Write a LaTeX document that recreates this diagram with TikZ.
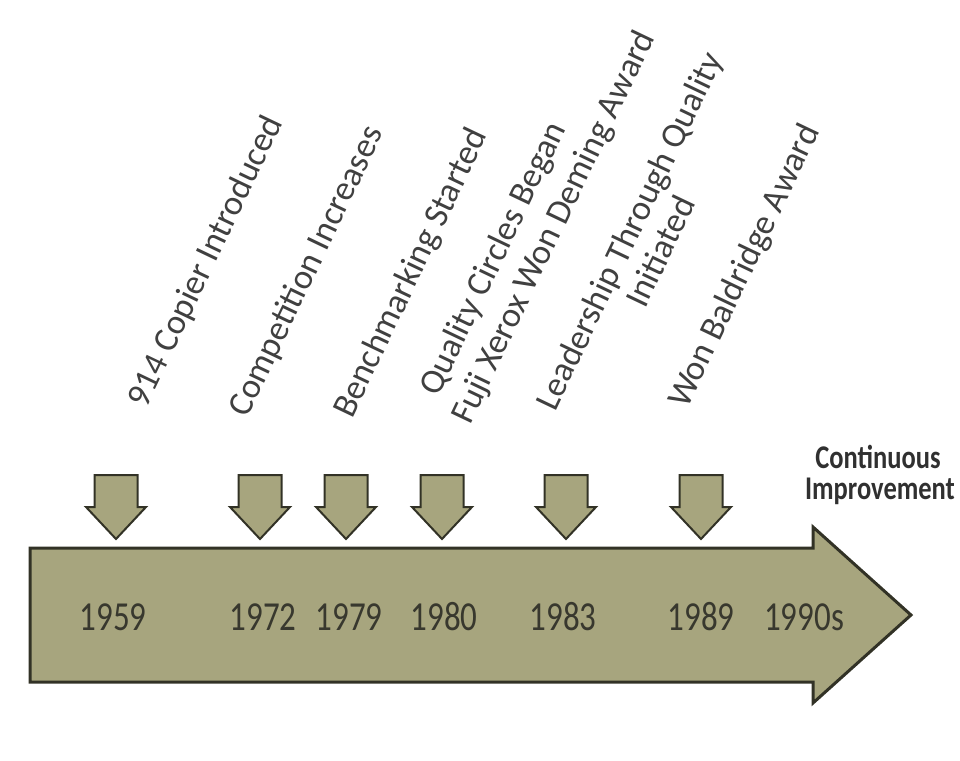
\documentclass[tikz,border=0pt]{standalone}
\usepackage{fontspec}
\setmainfont{Carlito}
\definecolor{arrowfill}{HTML}{A7A57E}
\definecolor{arrowline}{HTML}{323226}
\definecolor{yeartext}{HTML}{38382E}
\definecolor{labeltext}{HTML}{404040}
\definecolor{headtext}{HTML}{303030}
\tikzset{
  olive/.style={fill=arrowfill, draw=arrowline, line join=miter},
  downarrow/.pic={
    \path[olive, line width=2pt]
      (-21.5,-64) -- (21.5,-64) -- (21.5,-32) -- (30,-32) -- (0,0)
      -- (-30,-32) -- (-21.5,-32) -- cycle;
  },
  yearlabel/.style={yscale=1.25, anchor=base, inner sep=0pt, text=yeartext,
    font=\fontsize{33}{40}\selectfont},
  eventlabel/.style={rotate=64.5, anchor=base west, inner sep=0pt,
    text=labeltext, font=\fontsize{35}{40}\selectfont},
  headlabel/.style={yscale=1.25, anchor=base, inner sep=0pt, text=headtext,
    font=\fontsize{26.5}{30}\selectfont\bfseries},
}
\begin{document}
\begin{tikzpicture}[x=1pt, y=-1pt]
\useasboundingbox (0,0) rectangle (960,760);

% main timeline arrow
\path[olive, line width=3pt]
  (30,548) -- (813,548) -- (813,527) -- (911,615) -- (813,703)
  -- (813,682) -- (30,682) -- cycle;

% event markers
\pic (m1959) at (116,539) {downarrow};
\pic (m1972) at (260,539) {downarrow};
\pic (m1979) at (346,539) {downarrow};
\pic (m1980) at (442,539) {downarrow};
\pic (m1983) at (566,539) {downarrow};
\pic (m1989) at (701,539) {downarrow};

% years along the arrow
\node[yearlabel] (y1959) at (113,630) {1959};
\node[yearlabel] (y1972) at (263,630) {1972};
\node[yearlabel] (y1979) at (349,630) {1979};
\node[yearlabel] (y1980) at (444,630) {1980};
\node[yearlabel] (y1983) at (563,630) {1983};
\node[yearlabel] (y1989) at (701,630) {1989};
\node[yearlabel] (y1990) at (804,630) {1990s};

% slanted event descriptions
\node[eventlabel] (e1959) at (146,410) {914 Copier Introduced};
\node[eventlabel] (e1972) at (247,419) {Competition Increases};
\node[eventlabel] (e1979) at (352,420) {Benchmarking Started};
\node[eventlabel] (e1980a) at (438,398) {Quality Circles Began};
\node[eventlabel] (e1980b) at (470,426) {Fuji Xerox Won Deming Award};
\node[eventlabel] (e1983a) at (555,413) {Leadership Through Quality};
\node[eventlabel] (e1983b) at (645,310) {Initiated};
\node[eventlabel] (e1989) at (687,410) {Won Baldridge Award};

% caption at the arrow head
\node[headlabel] (ci1) at (878,468) {Continuous};
\node[headlabel] (ci2) at (880,499) {Improvement};
\end{tikzpicture}
\end{document}
